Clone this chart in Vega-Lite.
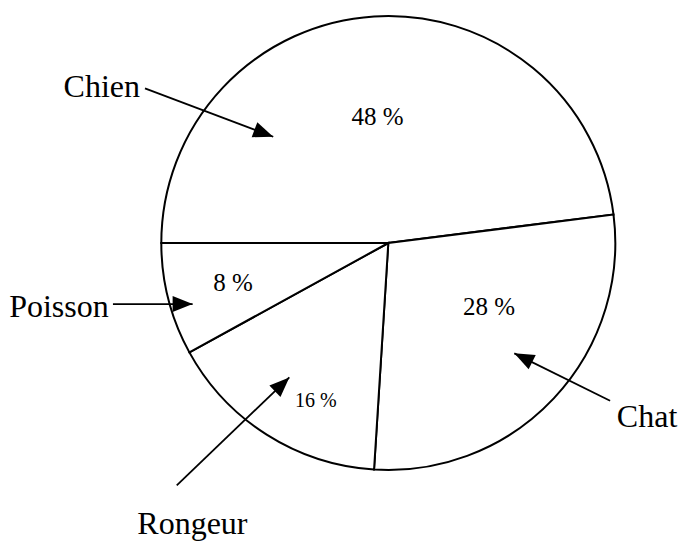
{
  "$schema": "https://vega.github.io/schema/vega-lite/v6.json",
  "width": 680,
  "height": 542,
  "autosize": {"type": "none"},
  "padding": 0,
  "background": "white",
  "config": {"view": {"stroke": null}},
  "data": {
    "values": [
      {"category": "Chien", "pct": 48, "lx": -4.8, "ly": 51.8, "nx": -126.2, "ny": 64.3, "ax": -107.2, "ay": 68.1, "tx": -50.7, "ty": 46.8},
      {"category": "Chat", "pct": 28, "lx": 44.4, "ly": -31.7, "nx": 114.0, "ny": -80.9, "ax": 97.7, "ay": -69.5, "tx": 55.5, "ty": -48.6},
      {"category": "Rongeur", "pct": 16, "lx": -31.9, "ly": -72.2, "nx": -86.3, "ny": -128.2, "ax": -93.2, "ay": -106.8, "tx": -43.6, "ty": -59.2},
      {"category": "Poisson", "pct": 8, "lx": -68.4, "ly": -21.1, "nx": -145.1, "ny": -32.5, "ax": -121.3, "ay": -26.9, "tx": -86.2, "ty": -26.9}
    ]
  },
  "layer": [
    {
      "mark": {"type": "arc", "radius": 227, "fill": "white", "stroke": "black", "strokeWidth": 2},
      "encoding": {
        "theta": {"field": "pct", "type": "quantitative", "stack": true, "scale": {"range": [4.71238898, 10.99557429]}},
        "order": {"field": "pct", "sort": "descending"},
        "x": {"datum": 0, "type": "quantitative", "scale": {"domain": [-171.06, 128.5], "nice": false, "zero": false}, "axis": null},
        "y": {"datum": 0, "type": "quantitative", "scale": {"domain": [-131.72, 107.05], "nice": false, "zero": false}, "axis": null}
      }
    },
    {
      "transform": [{"calculate": "datum.pct + ' %'", "as": "lab"}],
      "mark": {"type": "text", "font": "Liberation Serif", "baseline": "alphabetic", "align": "center", "color": "black"},
      "encoding": {
        "x": {"field": "lx", "type": "quantitative", "axis": null},
        "y": {"field": "ly", "type": "quantitative", "axis": null},
        "text": {"field": "lab"},
        "size": {"condition": {"test": "datum.pct == 16", "value": 20}, "value": 25}
      }
    },
    {
      "mark": {"type": "text", "font": "Liberation Serif", "baseline": "alphabetic", "align": "center", "fontSize": 32, "color": "black"},
      "encoding": {
        "x": {"field": "nx", "type": "quantitative", "axis": null},
        "y": {"field": "ny", "type": "quantitative", "axis": null},
        "text": {"field": "category"}
      }
    },
    {
      "mark": {"type": "rule", "color": "black", "strokeWidth": 1.8},
      "encoding": {
        "x": {"field": "ax", "type": "quantitative", "axis": null},
        "y": {"field": "ay", "type": "quantitative", "axis": null},
        "x2": {"field": "tx"},
        "y2": {"field": "ty"}
      }
    },
    {
      "transform": [{"calculate": "atan2(datum.ay - datum.ty, datum.tx - datum.ax) * 180 / PI", "as": "ang"}],
      "mark": {"type": "point", "shape": "M0,0L-1,-0.4L-1,0.4Z", "size": 1600, "filled": true, "color": "black", "opacity": 1, "strokeWidth": 0},
      "encoding": {
        "x": {"field": "tx", "type": "quantitative", "axis": null},
        "y": {"field": "ty", "type": "quantitative", "axis": null},
        "angle": {"field": "ang", "type": "quantitative", "scale": null}
      }
    }
  ]
}
